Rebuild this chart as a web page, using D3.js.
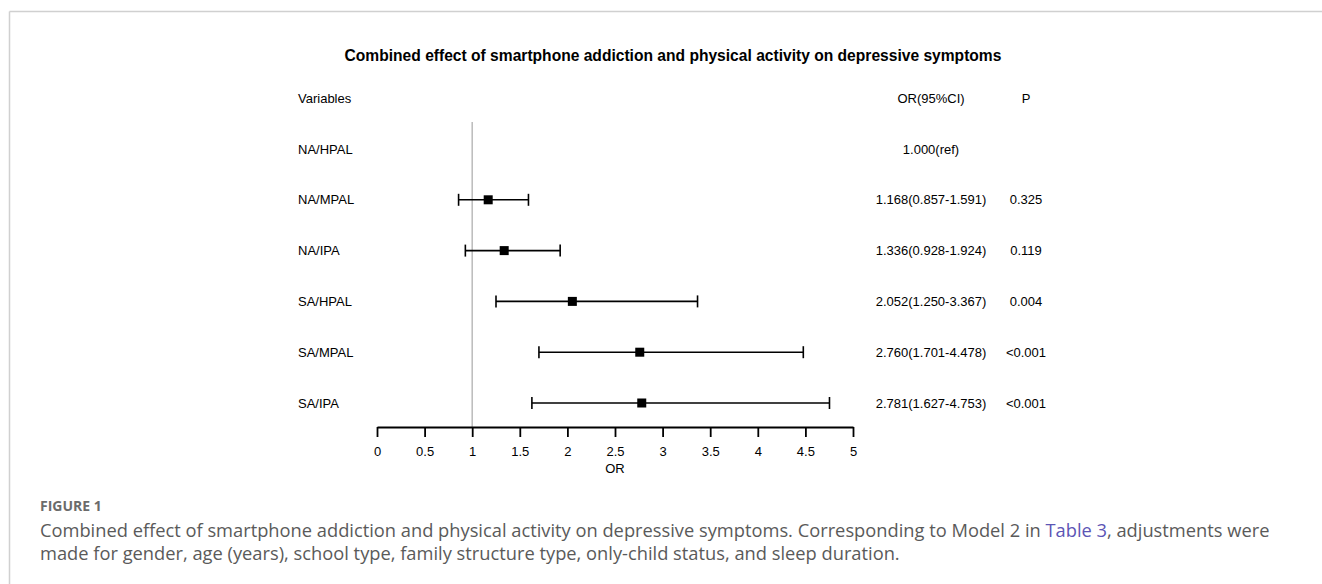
<!DOCTYPE html>
<html><head><meta charset="utf-8">
<script src="https://cdn.jsdelivr.net/npm/d3@7"></script>
<style>
body{margin:0;background:#fff;}
</style></head>
<body>
<svg id="c" width="1322" height="584"></svg>
<script>
const categories = ["NA/HPAL","NA/MPAL","NA/IPA","SA/HPAL","SA/MPAL","SA/IPA"];
const orValues = [1.000, 1.168, 1.336, 2.052, 2.760, 2.781];
const lowerCI = [null, 0.857, 0.928, 1.250, 1.701, 1.627];
const upperCI = [null, 1.591, 1.924, 3.367, 4.478, 4.753];
const orText = ["1.000(ref)","1.168(0.857-1.591)","1.336(0.928-1.924)","2.052(1.250-3.367)","2.760(1.701-4.478)","2.781(1.627-4.753)"];
const pText = ["","0.325","0.119","0.004","<0.001","<0.001"];
const xTicks = [0,0.5,1,1.5,2,2.5,3,3.5,4,4.5,5];

const svg = d3.select("#c");
const font = "'Liberation Sans', Arial, sans-serif";
const fs = 13;

// frame
svg.append("line").attr("x1",9.5).attr("x2",1322).attr("y1",11.5).attr("y2",11.5).attr("stroke","#d0d0d0").attr("stroke-width",1.5);
svg.append("line").attr("x1",9.5).attr("x2",9.5).attr("y1",11.5).attr("y2",584).attr("stroke","#d0d0d0").attr("stroke-width",1.5);

const x = d3.scaleLinear().domain([0,5]).range([377,853]);
const y = d3.scalePoint().domain(categories).range([149,403]);

svg.append("text").attr("x",673).attr("y",60.5).attr("text-anchor","middle")
  .attr("font-family",font).attr("font-weight","bold").attr("font-size",15.6).attr("fill","#000")
  .text("Combined effect of smartphone addiction and physical activity on depressive symptoms");

const hdrY = 103;
svg.append("text").attr("x",298).attr("y",hdrY).attr("font-family",font).attr("font-size",fs).text("Variables");
svg.append("text").attr("x",931).attr("y",hdrY).attr("text-anchor","middle").attr("font-family",font).attr("font-size",fs).text("OR(95%CI)");
svg.append("text").attr("x",1026).attr("y",hdrY).attr("text-anchor","middle").attr("font-family",font).attr("font-size",fs).text("P");

// reference line
svg.append("line").attr("x1",x(1)).attr("x2",x(1)).attr("y1",122).attr("y2",427)
  .attr("stroke","#bbbbbb").attr("stroke-width",1.5);

// axis
const axis = d3.axisBottom(x).tickValues(xTicks).tickSize(10).tickSizeOuter(0).tickPadding(10).tickFormat(d=>d3.format("")(d));
const ag = svg.append("g").attr("transform","translate(0,427)").call(axis);
ag.select(".domain").attr("stroke","#000").attr("stroke-width",1.8);
ag.selectAll(".tick line").attr("stroke","#000").attr("stroke-width",1.8);
ag.selectAll(".tick text").attr("font-family",font).attr("font-size",fs).attr("fill","#000");
svg.append("text").attr("x",615).attr("y",473).attr("text-anchor","middle").attr("font-family",font).attr("font-size",fs).text("OR");

const rows = svg.append("g").selectAll("g").data(categories).join("g");
rows.append("text").attr("x",298).attr("y",d=>y(d)+4.5).attr("font-family",font).attr("font-size",fs).text(d=>d);
rows.append("text").attr("x",931).attr("y",d=>y(d)+4.5).attr("text-anchor","middle").attr("font-family",font).attr("font-size",fs).text((d,i)=>orText[i]);
rows.append("text").attr("x",1026).attr("y",d=>y(d)+4.5).attr("text-anchor","middle").attr("font-family",font).attr("font-size",fs).text((d,i)=>pText[i]);

const ci = rows.filter((d,i)=>lowerCI[i]!==null);
ci.append("line").attr("x1",d=>x(lowerCI[categories.indexOf(d)])).attr("x2",d=>x(upperCI[categories.indexOf(d)]))
  .attr("y1",d=>y(d)).attr("y2",d=>y(d)).attr("stroke","#000").attr("stroke-width",1.6);
ci.append("line").attr("x1",d=>x(lowerCI[categories.indexOf(d)])).attr("x2",d=>x(lowerCI[categories.indexOf(d)]))
  .attr("y1",d=>y(d)-6).attr("y2",d=>y(d)+6).attr("stroke","#000").attr("stroke-width",1.6);
ci.append("line").attr("x1",d=>x(upperCI[categories.indexOf(d)])).attr("x2",d=>x(upperCI[categories.indexOf(d)]))
  .attr("y1",d=>y(d)-6).attr("y2",d=>y(d)+6).attr("stroke","#000").attr("stroke-width",1.6);
ci.append("rect").attr("x",d=>x(orValues[categories.indexOf(d)])-4.5).attr("y",d=>y(d)-4.5)
  .attr("width",9).attr("height",9).attr("fill","#000");

// caption
const capFont = "'Open Sans', Lato, sans-serif";
svg.append("text").attr("x",40).attr("y",511).attr("font-family",capFont).attr("font-weight","bold").attr("font-size",14).attr("fill","#6b6b6b").text("FIGURE 1");
const c1 = svg.append("text").attr("x",40).attr("y",536.5).attr("font-family",capFont).attr("font-size",18.3).attr("fill","#5a5a5a");
c1.append("tspan").text("Combined effect of smartphone addiction and physical activity on depressive symptoms. Corresponding to Model 2 in ");
c1.append("tspan").attr("fill","#5c55b5").text("Table 3");
c1.append("tspan").text(", adjustments were");
svg.append("text").attr("x",40).attr("y",559.5).attr("font-family",capFont).attr("font-size",18.3).attr("fill","#5a5a5a")
  .text("made for gender, age (years), school type, family structure type, only-child status, and sleep duration.");
</script>
</body></html>
